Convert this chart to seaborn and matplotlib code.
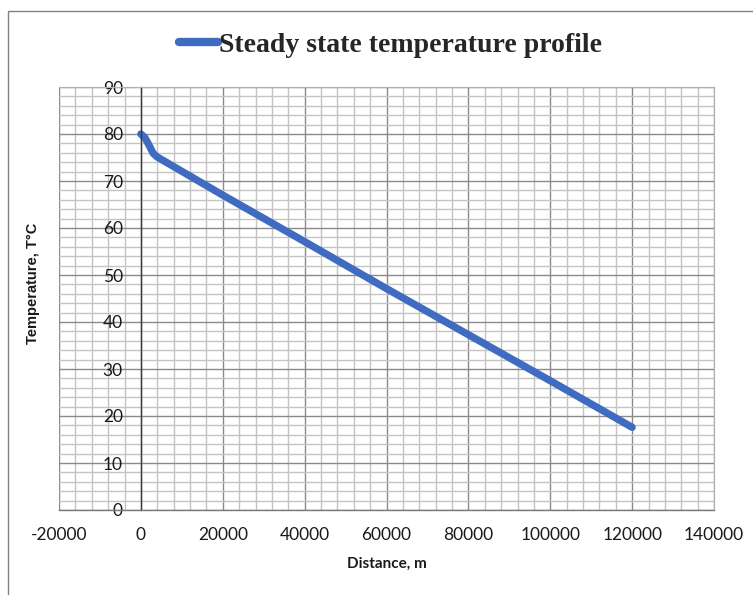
import numpy as np
import pandas as pd
import matplotlib
matplotlib.use('Agg')
import matplotlib.pyplot as plt
import seaborn as sns
from matplotlib.ticker import MultipleLocator
from matplotlib.patches import Rectangle

# values
distance = [0, 1000, 2000, 3000, 4000, 20000, 40000, 60000, 80000, 100000, 120000]
temperature = [80.0, 79.2, 77.6, 75.9, 75.1, 67.0, 57.1, 47.1, 37.3, 27.5, 17.6]
series_name = 'Steady state temperature profile'

df = pd.DataFrame({'Distance': distance, 'Temperature': temperature})

sns.set_style('white')
plt.rcParams['font.family'] = ['Lato', 'DejaVu Sans']
plt.rcParams['axes.unicode_minus'] = False

fig = plt.figure(figsize=(7.53, 5.95), dpi=100)
ax = fig.add_axes([59/753, 1-510/595, 655/753, 423/595])

line_col = '#3F6CC0'
sns.lineplot(data=df, x='Distance', y='Temperature', sort=False, estimator=None,
             color=line_col, lw=5.3, solid_capstyle='round', ax=ax, label=series_name)

ax.set_xlim(-20000, 140000)
ax.set_ylim(0, 90)
ax.xaxis.set_major_locator(MultipleLocator(20000))
ax.xaxis.set_minor_locator(MultipleLocator(4000))
ax.yaxis.set_major_locator(MultipleLocator(10))
ax.yaxis.set_minor_locator(MultipleLocator(2))

ax.grid(True, which='major', color='#8a8a8a', lw=1.0)
ax.grid(True, which='minor', color='#c4c4c4', lw=1.0)
ax.set_axisbelow(True)

# Excel-like axes: y axis crosses at x = 0
ax.spines['left'].set_position(('data', 0))
ax.spines['left'].set_color('#3a3a3a')
ax.spines['left'].set_linewidth(1.0)
ax.spines['bottom'].set_color('#7a7a7a')
ax.spines['bottom'].set_linewidth(1.0)
ax.spines['top'].set_color('#b0b0b0')
ax.spines['right'].set_color('#b0b0b0')

ax.tick_params(axis='x', which='major', direction='out', length=5, width=1,
               color='#7a7a7a', pad=7, labelsize=12.5, labelcolor='#1a1a1a')
ax.tick_params(axis='y', which='major', length=0, pad=13, labelsize=12.5,
               labelcolor='#1a1a1a')
ax.tick_params(which='minor', length=0)

ax.set_xlabel('Distance, m', fontsize=11, fontweight='bold', color='#1a1a1a')
ax.set_ylabel('Temperature, T\u00b0C', fontsize=10.5, fontweight='bold', color='#1a1a1a',
              family=['Liberation Sans', 'DejaVu Sans'])
ax.xaxis.set_label_coords(0.5, -0.11)
ax.yaxis.set_label_coords(-0.029, 0.537)

leg = ax.legend(loc='center', bbox_to_anchor=(0.519, 0.924), bbox_transform=fig.transFigure,
                frameon=False, handlelength=1.4, handletextpad=0.05,
                prop={'family': ['Liberation Serif', 'DejaVu Serif'], 'weight': 'bold', 'size': 20})
for h in leg.get_lines():
    h.set_linewidth(6)
    h.set_solid_capstyle('round')

# chart area border (cut at right/bottom like the reference)
fig.patches.append(Rectangle((8/753, -0.1), 1.2, 1-11/595+0.1, transform=fig.transFigure,
                             fill=False, ec='#808080', lw=1.0))

fig.savefig('out.png', dpi=100)
